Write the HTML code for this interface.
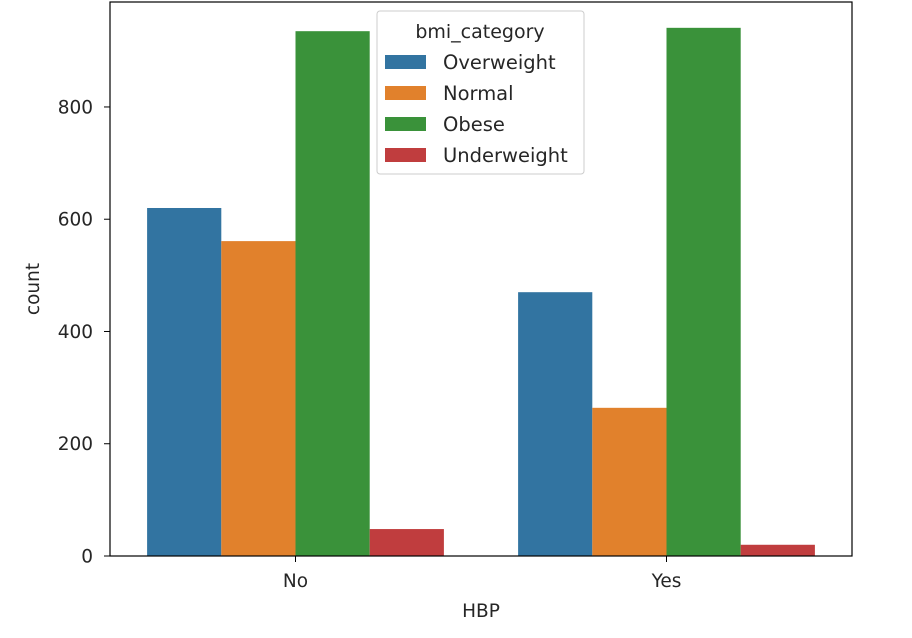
<!DOCTYPE html>
<html><head><meta charset="utf-8"><style>
body{margin:0;background:#fff;width:912px;height:633px;overflow:hidden}
svg{font-family:"DejaVu Sans","Liberation Sans",sans-serif;fill:#262626}
</style></head><body>
<svg id="chart" width="912" height="633">
<g id="bars"></g>
<g id="axes"></g>
</svg>
<script>
const groups = ["No", "Yes"];
const seriesNames = ["Overweight", "Normal", "Obese", "Underweight"];
const colors = ["#3274a1", "#e1812c", "#3a923a", "#c03d3e"];
const overweight = [620, 470];
const normal = [561, 264];
const obese = [935, 941];
const underweight = [48, 20];
const yTicks = [0, 200, 400, 600, 800];
const series = [overweight, normal, obese, underweight];

const L = 110, R = 852, T = 2, B = 556;
const yMax = 987;
const y = v => B - v / yMax * (B - T);
const groupW = (R - L) / groups.length;
const barW = groupW * 0.8 / seriesNames.length;
const x = (g, s) => L + groupW * g + groupW * 0.1 + s * barW;
const NS = "http://www.w3.org/2000/svg";
function mk(tag, attrs, parent) {
  const e = document.createElementNS(NS, tag);
  for (const k in attrs) e.setAttribute(k, attrs[k]);
  parent.appendChild(e);
  return e;
}
const bars = document.getElementById("bars");
const axes = document.getElementById("axes");
series.forEach((vals, s) => {
  vals.forEach((v, g) => {
    const r = mk("rect", {x: x(g, s), y: y(v), width: barW, height: B - y(v), fill: colors[s]}, bars);
    
    
  });
});
mk("rect", {x: L, y: T, width: R - L, height: B - T, fill: "none", stroke: "#000", "stroke-width": 1.2}, axes);
yTicks.forEach(t => {
  const yy = y(t);
  mk("line", {x1: L - 6, x2: L, y1: yy, y2: yy, stroke: "#000"}, axes);
  const tx = mk("text", {x: L - 17, y: yy + 6.5, "text-anchor": "end", "font-size": 18.5}, axes);
  tx.textContent = t;
  
  
});
groups.forEach((g, i) => {
  const xx = L + groupW * (i + 0.5);
  mk("line", {x1: xx, x2: xx, y1: B, y2: B + 6, stroke: "#000"}, axes);
  const tx = mk("text", {x: xx, y: 587, "text-anchor": "middle", "font-size": 18.5}, axes);
  tx.textContent = g;
  
  
});
const xt = mk("text", {x: (L + R) / 2, y: 617, "text-anchor": "middle", "font-size": 18.5}, axes);
xt.textContent = "HBP";


const yt = mk("text", {x: 0, y: 0, "text-anchor": "middle", "font-size": 18.5, transform: "translate(39,289) rotate(-90)"}, axes);
yt.textContent = "count";


// legend
const lg = mk("g", {}, axes);


mk("rect", {x: 377, y: 11, width: 207, height: 163, rx: 3, fill: "#fff", stroke: "#ccc", "fill-opacity": 0.8}, lg);
const lt = mk("text", {x: 480, y: 38, "text-anchor": "middle", "font-size": 19}, lg);
lt.textContent = "bmi_category";


seriesNames.forEach((n, i) => {
  const cy = 62 + i * 31;
  const p = mk("rect", {x: 385, y: cy - 7, width: 41, height: 14, fill: colors[i]}, lg);
  
  
  const t = mk("text", {x: 443, y: cy + 7, "font-size": 19.5}, lg);
  t.textContent = n;
  
  
});
</script>
</body></html>
